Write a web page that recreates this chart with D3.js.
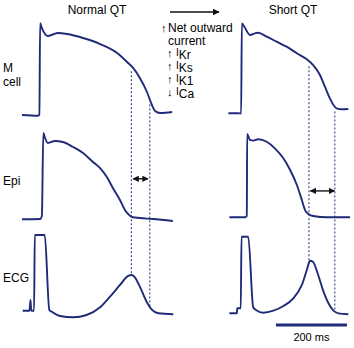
<!DOCTYPE html>
<html><head><meta charset="utf-8">
<script src="https://cdn.jsdelivr.net/npm/d3@7"></script>
<style>html,body{margin:0;padding:0;background:#fff}svg{display:block}</style>
</head><body>
<svg id="c" width="354" height="348"></svg>
<script>
// ---- data (time in ms, membrane potential in mV, ECG in relative units) ----
const panelTitles = ["Normal QT", "Short QT"];
const rowLabels = [["M", "cell"], ["Epi"], ["ECG"]];
const currentLabels = [
  {arrow: "↑", main: "I", sub: "Kr"},
  {arrow: "↑", main: "I", sub: "Ks"},
  {arrow: "↑", main: "I", sub: "K1"},
  {arrow: "↓", main: "I", sub: "Ca"}
];
const normalM = [[0,-86],[45,-87],[49,-86],[51,35],[56,28.7],[73,18.2],[87,20.2],[101,22.1],[127,20.8],[172,15.5],[220,7.6],[268,-4.2],[296,-16.1],[313,-24],[332,-37.2],[352,-55.7],[366,-72.8],[375,-80.8],[389,-83.4],[423,-82.1]];
const normalEpi = [[0,-86.4],[51,-86],[56,-82],[60,27.4],[65,20.8],[73,14.2],[93,16.9],[115,15.5],[144,8.9],[172,1],[200,-10.8],[220,-18.8],[239,-30.6],[256,-45.1],[276,-61],[290,-74.2],[299,-79.4],[310,-83.4],[332,-84.7],[369,-86],[425,-88.7]];
const normalECG = [[2,0.017],[21,0.017],[24,0.156],[26,0.017],[34,0.017],[36,1.0],[64,1.0],[77,0.026],[84,0.004],[107,-0.052],[144,-0.069],[182,-0.039],[220,0.061],[248,0.199],[276,0.351],[299,0.468],[309,0.481],[318,0.451],[332,0.329],[351,0.134],[365,0.035],[384,-0.017],[426,-0.03]];
const shortM = [[1,-83.8],[29,-83.8],[37,-84.1],[39,34.7],[48,28.7],[62,19.5],[76,21.7],[85,22.5],[109,17.3],[137,10.7],[165,4.1],[194,-4.6],[222,-12.6],[240,-20.1],[259,-33.3],[273,-48.7],[287,-64],[297,-72.8],[306,-77.2],[320,-78.5],[339,-78.1]];
const shortEpi = [[4,-83.8],[48,-83.8],[53,-82.1],[54,26.1],[62,18.2],[71,17.3],[85,19.1],[109,15.9],[132,7.2],[156,-6],[175,-21.4],[194,-41.2],[208,-61],[217,-74.2],[227,-79.4],[240,-82.1],[278,-83.8],[344,-83.8]];
const shortECG = [[4,-0.017],[25,-0.017],[26,0.048],[36,0.048],[38,0.978],[57,0.978],[71,0.061],[79,0.026],[99,-0.009],[128,0.017],[156,0.078],[184,0.178],[208,0.351],[222,0.545],[231,0.666],[239,0.653],[254,0.481],[269,0.264],[283,0.113],[297,0.017],[311,-0.017],[339,-0.03]];
const normalMarkers = [308, 360];
const shortMarkers = [228, 301];
const normalArrowT = [313, 355], normalArrowV = -33;
const shortArrowT = [232, 300], shortArrowV = -49;
const scaleBarStart = 135, scaleBarMs = 200;

// ---- drawing ----
const svg = d3.select("#c");
const navy = "#1f2a78";
const font = "'Liberation Sans', Arial, sans-serif";
const pxPerMs = 0.355;
const xL = d3.scaleLinear().domain([0, 430]).range([22, 22 + 430 * pxPerMs]);
const xR = d3.scaleLinear().domain([0, 345]).range([228, 228 + 345 * pxPerMs]);
const mvPx = 0.758;
const yM = d3.scaleLinear().domain([-90, 40]).range([118, 118 - 130 * mvPx]);
const yEpi = d3.scaleLinear().domain([-90, 40]).range([222, 222 - 130 * mvPx]);
const yECG = d3.scaleLinear().domain([-0.2, 1.2]).range([312 + 0.2 * 77, 312 - 1.2 * 77]);

const defs = svg.append("defs");
defs.append("marker").attr("id", "ah").attr("viewBox", "0 0 10 10").attr("refX", 9).attr("refY", 5)
  .attr("markerWidth", 4.5).attr("markerHeight", 4.5).attr("orient", "auto-start-reverse")
  .append("path").attr("d", "M0,0L10,5L0,10z").attr("fill", "#111");

function interp(trace, t) {
  for (let i = 1; i < trace.length; i++) {
    if (trace[i][0] >= t) {
      const a = trace[i - 1], b = trace[i];
      return a[1] + (b[1] - a[1]) * (t - a[0]) / (b[0] - a[0]);
    }
  }
  return trace[trace.length - 1][1];
}

function drawPanel(x, M, Epi, ECG, markers, arrowT, arrowV) {
  markers.forEach(t => {
    svg.append("line")
      .attr("x1", x(t)).attr("x2", x(t))
      .attr("y1", yM(interp(M, t)) + 5).attr("y2", yECG(interp(ECG, t)))
      .attr("stroke", navy).attr("stroke-width", 1).attr("stroke-dasharray", "2,2");
  });
  [[M, yM], [Epi, yEpi], [ECG, yECG]].forEach(([tr, y]) => {
    svg.append("path").datum(tr)
      .attr("d", d3.line().x(d => x(d[0])).y(d => y(d[1])).curve(d3.curveMonotoneX))
      .attr("fill", "none").attr("stroke", navy).attr("stroke-width", 1.9)
      .attr("stroke-linejoin", "round");
  });
  svg.append("line")
    .attr("x1", x(arrowT[0])).attr("x2", x(arrowT[1]))
    .attr("y1", yEpi(arrowV)).attr("y2", yEpi(arrowV))
    .attr("stroke", "#111").attr("stroke-width", 1.4)
    .attr("marker-start", "url(#ah)").attr("marker-end", "url(#ah)");
}
drawPanel(xL, normalM, normalEpi, normalECG, normalMarkers, normalArrowT, normalArrowV);
drawPanel(xR, shortM, shortEpi, shortECG, shortMarkers, shortArrowT, shortArrowV);

// titles
svg.append("text").attr("x", 97).attr("y", 14).attr("text-anchor", "middle")
  .attr("font-family", font).attr("font-size", 12).text(panelTitles[0]);
svg.append("text").attr("x", 293).attr("y", 14).attr("text-anchor", "middle")
  .attr("font-family", font).attr("font-size", 12).text(panelTitles[1]);
// top arrow
svg.append("line").attr("x1", 170).attr("x2", 219).attr("y1", 12).attr("y2", 12)
  .attr("stroke", "#111").attr("stroke-width", 1.5).attr("marker-end", "url(#ah)");

// row labels
const rowBase = [[72, 86], [185], [282]];
rowLabels.forEach((lines, i) => {
  lines.forEach((s, j) => {
    svg.append("text").attr("x", 3).attr("y", rowBase[i][j])
      .attr("font-family", font).attr("font-size", 12).text(s);
  });
});

// current annotation
svg.append("text").attr("x", 161).attr("y", 32).attr("font-family", font).attr("font-size", 11)
  .text("↑");
svg.append("text").attr("x", 168).attr("y", 32).attr("font-family", font).attr("font-size", 12)
  .text("Net outward");
svg.append("text").attr("x", 168).attr("y", 45).attr("font-family", font).attr("font-size", 12)
  .text("current");
currentLabels.forEach((c, i) => {
  const yb = 56 + i * 13;
  svg.append("text").attr("x", 167).attr("y", yb + 1).attr("font-family", font).attr("font-size", 11)
    .text(c.arrow);
  const t = svg.append("text").attr("x", 176).attr("y", yb).attr("font-family", font).attr("font-size", 10);
  t.append("tspan").text(c.main);
  t.append("tspan").attr("dy", 3).attr("font-size", 12).text(c.sub);
});

// scale bar
svg.append("line").attr("x1", xR(scaleBarStart)).attr("x2", xR(scaleBarStart + scaleBarMs))
  .attr("y1", 325).attr("y2", 325).attr("stroke", navy).attr("stroke-width", 3);
svg.append("text").attr("x", xR(scaleBarStart + scaleBarMs / 2)).attr("y", 341)
  .attr("text-anchor", "middle").attr("font-family", font).attr("font-size", 11)
  .text(scaleBarMs + " ms");
</script>
</body></html>
